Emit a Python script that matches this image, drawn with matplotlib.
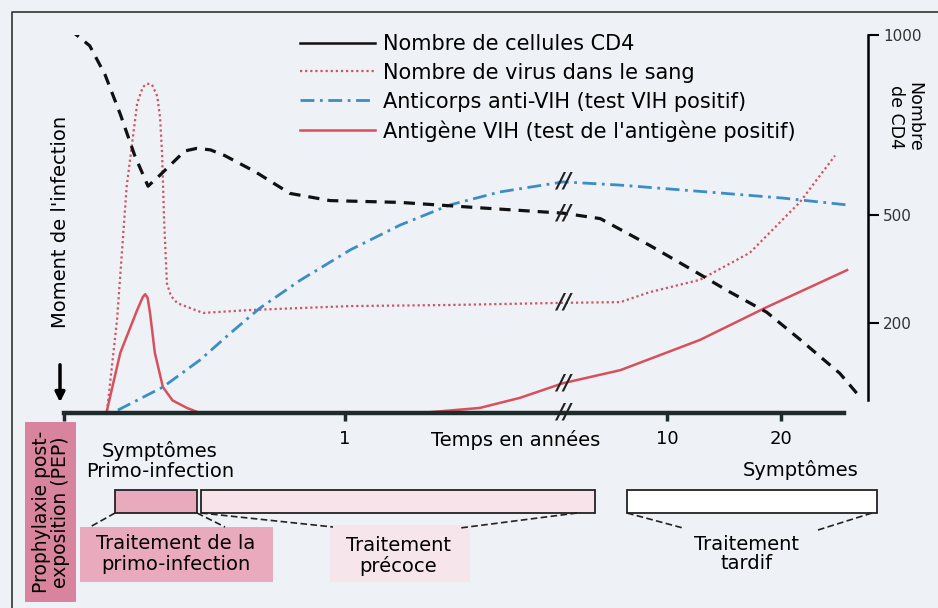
import numpy as np
import matplotlib
matplotlib.use('Agg')
import matplotlib.pyplot as plt
from matplotlib.lines import Line2D
from matplotlib.patches import Rectangle

# position schematique le long de l'axe du temps (0..100), valeurs en "nombre de CD4"
cd4_x = [0.75, 3.2, 5.1, 7.0, 8.8, 10.45, 11.9, 14.2, 15.05, 16.5, 18.2, 20.0, 23.8,
         28.1, 33.1, 41.8, 51.7, 62.1, 66.7, 72.9, 79.1, 82.5, 87.4, 91.5, 96.5, 98.6]
cd4_y = [1015, 970, 890, 780, 665, 580, 610, 660, 678, 685, 681, 665, 620,
         560, 540, 535, 520, 505, 490, 415, 335, 290, 230, 155, 60, 5]

virus_x = [5.35, 6.6, 7.8, 9.1, 9.8, 10.3, 10.95, 11.6, 11.95, 12.2, 12.45, 12.8,
           13.3, 14.1, 17.3, 23.1, 35.6, 48.0, 62.1, 69.2, 72.9, 79.1, 85.3, 91.5, 95.9]
virus_y = [-45, 210, 580, 810, 855, 865, 862, 830, 770, 670, 486, 310,
           275, 255, 228, 236, 247, 250, 256, 258, 286, 320, 395, 535, 665]

anticorps_x = [6.7, 12.3, 16.9, 20.7, 24.4, 29.4, 35.6, 41.8, 48.0, 54.2, 62.1,
               69.2, 80.0, 89.4, 97.4]
anticorps_y = [-42, 22, 97, 172, 242, 319, 403, 472, 528, 564, 592,
               583, 564, 547, 528]

antigene_x = [5.35, 7.0, 9.1, 9.8, 10.1, 10.4, 10.7, 11.3, 12.3, 13.5, 15.3, 16.9,
              44.3, 51.7, 56.7, 62.1, 69.2, 79.1, 87.4, 97.4]
antigene_y = [-42, 117, 236, 272, 280, 270, 228, 117, 22, -15, -36, -50,
              -50, -36, -8, 33, 69, 153, 244, 347]

temps_ticks = [0, 34.95, 75.0, 89.2]
temps_labels = ['', '1', '10', '20']
cd4_ticks = [200, 500, 1000]
coupure = 62.1

bg = '#eef1f6'
rose = '#d9849e'
rose_clair = '#eaaabd'
rose_pale = '#f8e3ea'

fig = plt.figure(figsize=(9.38, 6.08), dpi=100, facecolor=bg)

# axes de decor en pixels
deco = fig.add_axes([0, 0, 1, 1], zorder=0)
deco.set_xlim(0, 938)
deco.set_ylim(608, 0)
deco.axis('off')

ax = fig.add_axes([64/938, 1-413/608, 804/938, 378/608], zorder=1)
ax.patch.set_visible(False)
ax.set_xlim(0, 100)
ax.set_ylim(-50, 1000)

ax.plot(antigene_x, antigene_y, color='#d7505c', lw=1.8, zorder=2)
ax.plot(virus_x, virus_y, color='#cc5566', lw=1.6, ls=(0, (1, 1.3)), zorder=2)
ax.plot(anticorps_x, anticorps_y, color='#3c8dc4', lw=2, ls=(0, (5, 2, 1, 2)), zorder=2)
ax.plot(cd4_x, cd4_y, color='#111111', lw=2.3, ls=(0, (3.5, 2.5)), zorder=3)

# marques de coupure
for xs, ys in [(cd4_x, cd4_y), (virus_x, virus_y), (anticorps_x, anticorps_y),
               (antigene_x, antigene_y)]:
    ax.text(coupure, np.interp(coupure, xs, ys), '//', ha='center', va='center',
            fontsize=15, fontweight='bold', fontstyle='italic', color='#222222', zorder=4)
ax.text(coupure, -50, '//', ha='center', va='center', fontsize=15, fontstyle='italic',
        fontweight='bold', color='#222222', zorder=4, clip_on=False)

for s in ['left', 'top']:
    ax.spines[s].set_visible(False)
ax.spines['bottom'].set_linewidth(3.2)
ax.spines['bottom'].set_color('#1d2b2b')
ax.spines['bottom'].set_bounds(0, 97)
ax.spines['right'].set_linewidth(1.8)
ax.spines['right'].set_bounds(-15, 1000)

ax.set_xticks(temps_ticks)
ax.set_xticklabels(temps_labels, fontsize=13)
ax.tick_params(axis='x', length=6, width=2.5, pad=6, color='#1d2b2b')
ax.yaxis.tick_right()
ax.set_yticks(cd4_ticks)
ax.set_yticklabels([str(v) for v in cd4_ticks], fontsize=11, color='#333333')
ax.tick_params(axis='y', length=8, width=1.5, pad=3)

handles = [Line2D([], [], color='#111111', lw=1.8),
           Line2D([], [], color='#cc5566', lw=1.6, ls=(0, (1, 1.3))),
           Line2D([], [], color='#3c8dc4', lw=2, ls=(0, (5, 2, 1, 2))),
           Line2D([], [], color='#d7505c', lw=1.8)]
labels = ['Nombre de cellules CD4', 'Nombre de virus dans le sang',
          'Anticorps anti-VIH (test VIH positif)',
          "Antigène VIH (test de l'antigène positif)"]
fig.legend(handles, labels, loc='upper left', bbox_to_anchor=(300/938, 1-34/608),
           frameon=False, fontsize=15, handlelength=3.6, handletextpad=0.4,
           labelspacing=0.42, borderpad=0, borderaxespad=0)

# textes et cadres
deco.plot([12, 12, 938], [608, 12, 12], color='#333333', lw=1.2)
deco.text(905, 117, 'Nombre\nde CD4', rotation=270, ha='center', va='center',
          fontsize=12.5, linespacing=1.0)
deco.text(60, 222, "Moment de l'infection", rotation=90, ha='center', va='center',
          fontsize=14)
deco.annotate('', xy=(60, 405), xytext=(60, 362),
              arrowprops=dict(arrowstyle='-|>', color='black', lw=2.5, mutation_scale=14))
deco.text(516, 440, 'Temps en années', ha='center', va='center', fontsize=14)

deco.add_patch(Rectangle((25, 422), 51, 180, color=rose, lw=0))
deco.text(51, 512, 'Prophylaxie post-\nexposition (PEP)', rotation=90, ha='center',
          va='center', fontsize=13.5, linespacing=1.0)

deco.text(160, 461, 'Symptômes\nPrimo-infection', ha='center', va='center',
          fontsize=14, linespacing=1.05)
deco.text(801, 470, 'Symptômes', ha='center', va='center', fontsize=14)

deco.add_patch(Rectangle((115, 490), 82, 23, facecolor=rose_clair, edgecolor='#222222', lw=1.3))
deco.add_patch(Rectangle((201, 490), 394, 23, facecolor=rose_pale, edgecolor='#222222', lw=1.3))
deco.add_patch(Rectangle((627, 490), 250, 23, facecolor='white', edgecolor='#222222', lw=1.3))

deco.add_patch(Rectangle((80, 527), 193, 55, color=rose_clair, lw=0))
deco.add_patch(Rectangle((330, 525), 140, 57, color='#f6e6ec', lw=0))
deco.text(176, 554, 'Traitement de la\nprimo-infection', ha='center', va='center',
          fontsize=14, linespacing=1.1)
deco.text(398, 556, 'Traitement\nprécoce', ha='center', va='center',
          fontsize=14, linespacing=1.05)
deco.text(747, 554, 'Traitement\ntardif', ha='center', va='center',
          fontsize=14, linespacing=1.05)

for (x0, y0, x1, y1) in [(115, 513, 90, 527), (197, 513, 225, 527),
                         (201, 513, 333, 527), (577, 513, 460, 528),
                         (627, 513, 683, 528), (872, 513, 818, 530)]:
    deco.plot([x0, x1], [y0, y1], color='#222222', lw=1.2, ls=(0, (4, 2)))

fig.savefig('out.png', dpi=100, facecolor=bg)
